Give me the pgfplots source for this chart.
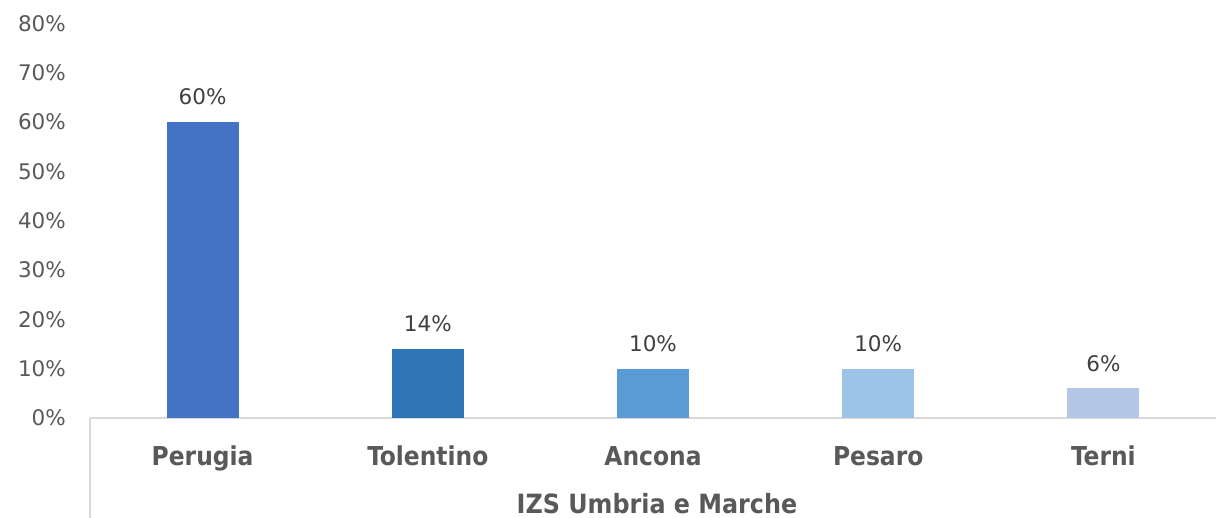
\documentclass[border=0pt]{standalone}
\usepackage{pgfplots}
\pgfplotsset{compat=1.18}
\usepackage{fontspec}
\setmainfont{DejaVu Sans}
\newfontfamily\catfont{DejaVu Sans Condensed}
\definecolor{tickgray}{HTML}{595959}
\definecolor{lblgray}{HTML}{404040}
\definecolor{axgray}{HTML}{D9D9D9}
\definecolor{cA}{HTML}{4472C4}
\definecolor{cB}{HTML}{2E75B6}
\definecolor{cC}{HTML}{5B9BD5}
\definecolor{cD}{HTML}{9DC3E6}
\definecolor{cE}{HTML}{B4C7E7}
\begin{document}
\begin{tikzpicture}
\path[use as bounding box] (0,0) rectangle (1216bp,518bp);
\begin{axis}[
  at={(90bp,100bp)}, anchor=south west,
  scale only axis, width=1126bp, height=394.7bp,
  xmin=-0.5, xmax=4.5, ymin=0, ymax=80,
  axis x line*=bottom, axis y line*=left,
  y axis line style={draw=none},
  x axis line style={draw=axgray, line width=1.2bp, -},
  tick style={draw=none},
  /pgf/number format/assume math mode=true,
  xtick={0,1,2,3,4},
  xticklabels={Perugia,Tolentino,Ancona,Pesaro,Terni},
  xticklabel style={anchor=base, inner sep=0pt, yshift=-43.7bp+0pt, font=\catfont\bfseries\fontsize{26bp}{30bp}\selectfont, text=tickgray},
  ytick={0,10,20,30,40,50,60,70,80},
  yticklabels={0\%,10\%,20\%,30\%,40\%,50\%,60\%,70\%,80\%},
  yticklabel style={anchor=east, inner sep=0pt, font=\fontsize{21.5bp}{25bp}\selectfont, text=tickgray},
  yticklabel shift=24bp,
  xlabel={IZS Umbria e Marche},
  xlabel style={at={(rel axis cs:0.5,0)}, anchor=base, inner sep=0pt, yshift=-95bp, xshift=4bp, font=\catfont\bfseries\fontsize{26.5bp}{30bp}\selectfont, text=tickgray},
  ybar, bar width=72bp, bar shift=0pt,
  nodes near coords={\pgfmathprintnumber[assume math mode=true]{\pgfplotspointmeta}\%},
  nodes near coords style={anchor=base, inner sep=0pt, yshift=17bp, font=\fontsize{21.5bp}{25bp}\selectfont, text=lblgray},
  clip=false,
]
\addplot[draw=none, fill=cA] coordinates {(0,60)};
\addplot[draw=none, fill=cB] coordinates {(1,14)};
\addplot[draw=none, fill=cC] coordinates {(2,10)};
\addplot[draw=none, fill=cD] coordinates {(3,10)};
\addplot[draw=none, fill=cE] coordinates {(4,6)};
\draw[axgray, line width=1.2bp] (rel axis cs:0,0) -- (rel axis cs:0,-0.26);
\end{axis}
\end{tikzpicture}
\end{document}
